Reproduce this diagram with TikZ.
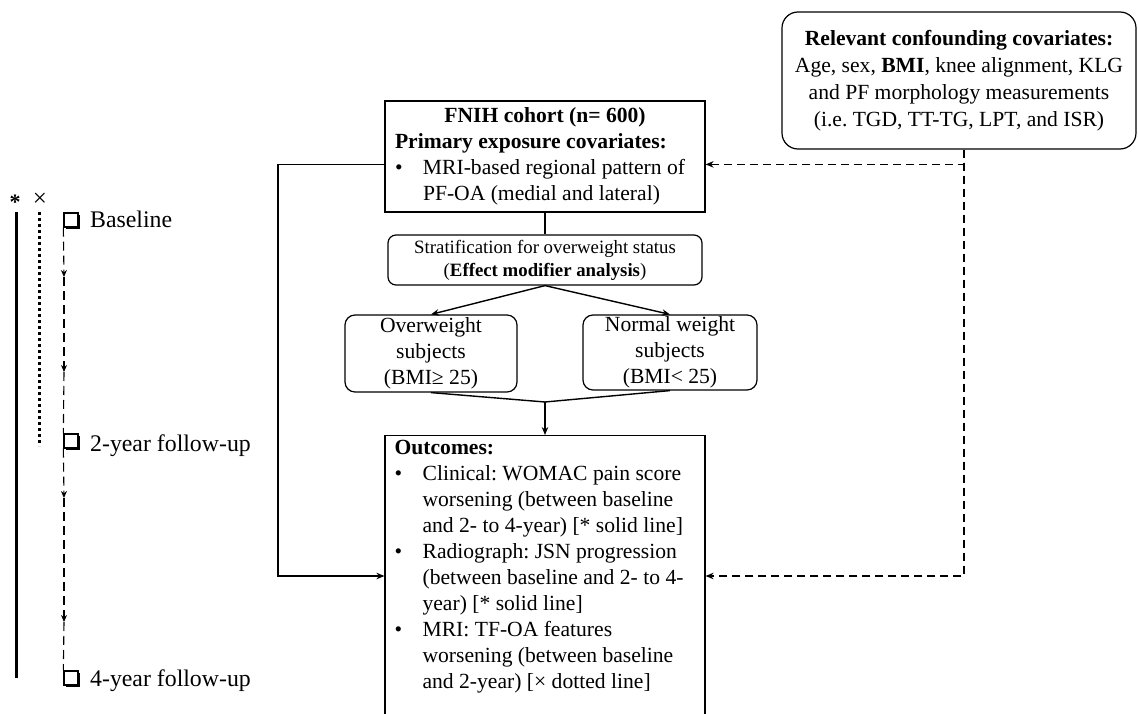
\documentclass[tikz,border=0pt]{standalone}
\usepackage{fontspec}
\setmainfont{Liberation Serif}
\usetikzlibrary{arrows.meta,shadows,calc}
\frenchspacing
\begin{document}
\begin{tikzpicture}[x=1pt,y=-1pt,
  bx/.style={draw, line width=1.2pt, inner sep=0pt},
  rbx/.style={bx, rounded corners=10pt},
  f21/.style={font=\fontsize{21.6}{26}\selectfont},
  tfont/.style={font=\fontsize{23.8}{28}\selectfont, inner sep=0pt},
  conn/.style={line width=1.4pt},
  arr/.style={conn, -{Stealth[length=8pt,width=6.5pt]}},
  dsh/.style={conn, dash pattern=on 8pt off 5pt, -{Stealth[length=8pt,width=6.5pt]}},
  tdash/.style={line width=1.1pt, dash pattern=on 9pt off 5pt},
  tarr/.style={tdash, -{Stealth[length=7pt,width=6pt]}},
  cbox/.style={draw, line width=1.3pt, fill=white, minimum size=14pt, inner sep=0pt,
    general shadow={fill=black, shadow xshift=1.8pt, shadow yshift=-1.8pt}}]
\path[use as bounding box] (0,0) rectangle (1138,714);

% main boxes
\node[bx, minimum width=320pt, minimum height=111pt, f21, align=left] (fnih) at (545,156.5)
 {\makebox[300pt][c]{\bfseries FNIH cohort (n= 600)}\\
  \textbf{Primary exposure covariates:}\\
  \makebox[28pt][l]{•}MRI-based regional pattern of\\
  \hspace*{28pt}PF-OA (medial and lateral)};

\node[rbx, rounded corners=8pt, minimum width=314pt, minimum height=50pt,
      font=\fontsize{18.8}{23}\selectfont, align=center] (strat) at (545,260)
 {Stratification for overweight status\\(\textbf{Effect modifier analysis})};

\node[rbx, minimum width=172pt, minimum height=77pt, f21, align=center] (ow) at (431,353.5)
 {Overweight\\subjects\\(BMI≥ 25)};
\node[rbx, minimum width=174pt, minimum height=75pt, f21, align=center] (nw) at (670,352.5)
 {Normal weight\\subjects\\(BMI< 25)};

\node[bx, minimum width=320pt, minimum height=292pt, anchor=north] (outc) at (545,435) {};
\node[f21, align=left, anchor=north west, inner xsep=10pt, inner ysep=5pt] (outt) at (outc.north west)
 {\textbf{Outcomes:}\\
  \makebox[28pt][l]{•}Clinical: WOMAC pain score\\
  \hspace*{28pt}worsening (between baseline\\
  \hspace*{28pt}and 2- to 4-year) [* solid line]\\
  \makebox[28pt][l]{•}Radiograph: JSN progression\\
  \hspace*{28pt}(between baseline and 2- to 4-\\
  \hspace*{28pt}year) [* solid line]\\
  \makebox[28pt][l]{•}MRI: TF-OA features\\
  \hspace*{28pt}worsening (between baseline\\
  \hspace*{28pt}and 2-year) [× dotted line]};

\node[rbx, rounded corners=16pt, minimum width=354pt, minimum height=137pt, align=center,
      font=\fontsize{21.6}{27}\selectfont] (conf) at (959,80.5)
 {\textbf{Relevant confounding covariates:}\\
  Age, sex, \textbf{BMI}, knee alignment, KLG\\
  and PF morphology measurements\\
  (i.e. TGD, TT-TG, LPT, and ISR)};

% connectors
\draw[conn] (fnih.south) -- (strat.north);
\draw[arr] (strat.south) -- (ow.north);
\draw[arr] (strat.south) -- (nw.north);
\coordinate (merge) at (545,402);
\draw[conn] (ow.south) -- (merge);
\draw[conn] (nw.south) -- (merge);
\draw[arr] (merge) -- (outc.north);

\coordinate (fnihL) at ($(fnih.north west)+(0,64)$);
\coordinate (outcL) at ($(outc.north west)+(0,141)$);
\coordinate (lcorner) at (278,576);
\draw[arr] (fnihL) -| (lcorner) -- (outcL);

\coordinate (confS) at ($(conf.south)+(5,0)$);
\coordinate (fnihR) at ($(fnih.north east)+(0,64)$);
\coordinate (outcR) at ($(outc.north east)+(0,141)$);
\draw[dsh] (confS) |- (fnihR);
\draw[dsh] (confS) |- (outcR);

% timeline
\node[font=\bfseries\fontsize{22}{26}\selectfont, inner sep=0pt] (star) at (15,202) {*};
\node[font=\fontsize{25}{28}\selectfont, inner sep=0pt] (cross) at (40,200) {×};
\coordinate (s1) at (16,212);
\coordinate (s2) at (16,678);
\draw[line width=3pt] (s1) -- (s2);
\coordinate (d1) at (39,212);
\coordinate (d2) at (39,446);
\draw[line width=3pt, dash pattern=on 3pt off 3pt] (d1) -- (d2);

\node[cbox] (cb1) at (71,220) {};
\node[tfont, anchor=base west] (lb1) at (90,228) {Baseline};
\node[cbox] (cb2) at (71,441) {};
\node[tfont, anchor=base west] (lb2) at (90,451) {2-year follow-up};
\node[cbox] (cb3) at (71,678) {};
\node[tfont, anchor=base west] (lb3) at (90,686) {4-year follow-up};

\coordinate (ta1) at (64,277);
\coordinate (ta2) at (64,372);
\coordinate (ta3) at (64,498);
\coordinate (ta4) at (64,622);
\draw[tarr] (cb1.south west) -- (ta1);
\draw[tarr] (ta1) -- (ta2);
\draw[tdash] (ta2) -- (cb2.north west);
\draw[tarr] (cb2.south west) -- (ta3);
\draw[tarr] (ta3) -- (ta4);
\draw[tdash] (ta4) -- (cb3.north west);
\end{tikzpicture}
\end{document}
